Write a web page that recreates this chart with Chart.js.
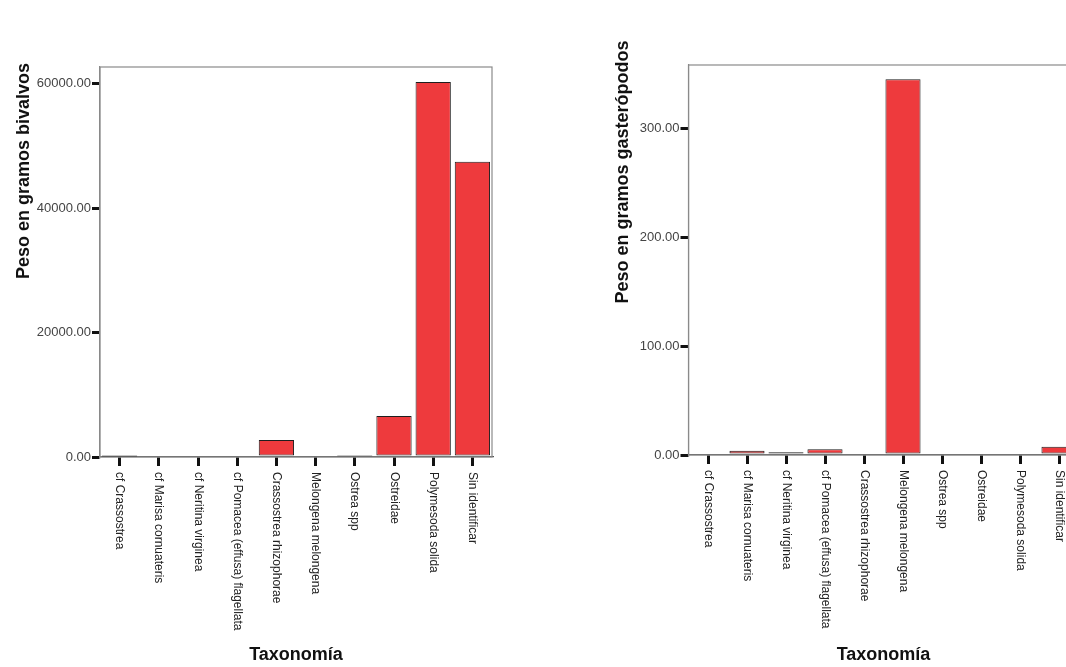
<!DOCTYPE html>
<html>
<head>
<meta charset="utf-8">
<script src="https://cdn.jsdelivr.net/npm/chart.js@4.4.0/dist/chart.umd.min.js"></script>
<style>
html, body { margin: 0; padding: 0; background: #fff; overflow: hidden; width: 1066px; height: 667px; }
#left { position: absolute; left: 0; top: 0; width: 540px; height: 667px; }
#right { position: absolute; left: 560px; top: 0; width: 560px; height: 667px; }
</style>
</head>
<body>
<div id="left"><canvas id="chartBivalvos"></canvas></div>
<div id="right"><canvas id="chartGasteropodos"></canvas></div>
<script>
// categories (same on both charts)
const taxa = [
    'cf Crassostrea',
    'cf Marisa cornuateris',
    'cf Neritina virginea',
    'cf Pomacea (effusa) flagellata',
    'Crassostrea rhizophorae',
    'Melongena melongena',
    'Ostrea spp',
    'Ostreidae',
    'Polymesoda solida',
    'Sin identificar'
];

// weights
const bivalvos = [100, 0, 0, 0, 2730, 0, 140, 6600, 60300, 47450];
const gasteropodos = [0, 3.9, 2.5, 5.2, 0, 345, 0, 0, 0, 7.6];

// y axis ticks and top of each axis
const bivalvosTicks = [0, 20000, 40000, 60000];
const gasteropodosTicks = [0, 100, 200, 300];
const bivalvosMax = 62700;
const gasteropodosMax = 358;

const xTitle = 'Taxonomía';

Chart.defaults.font.family = '"Liberation Sans", Arial, sans-serif';

/* draws the frame, the rotated category names and the two axis titles */
const decorations = {
    id: 'decorations',
    beforeDatasetsDraw(chart) {
        const ctx = chart.ctx;
        const area = chart.chartArea;
        ctx.save();
        ctx.strokeStyle = '#8a8a8a';
        ctx.lineWidth = 1.2;
        ctx.strokeRect(area.left, area.top, area.right - area.left, area.bottom - area.top);
        ctx.restore();
    },
    afterDraw(chart, args, opts) {
        const ctx = chart.ctx;
        const area = chart.chartArea;
        const xScale = chart.scales.x;
        ctx.save();
        // category labels, reading top to bottom
        ctx.fillStyle = '#222';
        ctx.font = '12px "Liberation Sans", Arial, sans-serif';
        ctx.textAlign = 'left';
        ctx.textBaseline = 'middle';
        chart.data.labels.forEach((lab, i) => {
            const x = xScale.getPixelForValue(i);
            ctx.save();
            ctx.translate(x, area.bottom + 15);
            ctx.rotate(Math.PI / 2);
            ctx.fillText(lab, 0, 0);
            ctx.restore();
        });
        // axis titles
        ctx.fillStyle = '#111';
        ctx.font = 'bold 18px "Liberation Sans", Arial, sans-serif';
        ctx.textAlign = 'center';
        ctx.fillText(xTitle, (area.left + area.right) / 2, chart.height - 12);
        ctx.save();
        ctx.translate(opts.yTitleX, opts.yTitleY);
        ctx.rotate(-Math.PI / 2);
        ctx.fillText(opts.yTitle, 0, 0);
        ctx.restore();
        ctx.restore();
    }
};

function makeChart(id, values, ticks, yMax, yTitle, box) {
    const canvas = document.getElementById(id);
    return new Chart(canvas.getContext('2d'), {
        type: 'bar',
        data: {
            labels: taxa,
            datasets: [{
                data: values,
                backgroundColor: '#ee3a3d',
                borderColor: '#1e1e1e',
                borderWidth: 1,
                borderSkipped: false,
                barPercentage: 0.9,
                categoryPercentage: 1.0
            }]
        },
        options: {
            responsive: true,
            maintainAspectRatio: false,
            animation: false,
            layout: { padding: { top: box.top, right: box.width - box.right, left: 0, bottom: 0 } },
            plugins: {
                legend: { display: false },
                tooltip: { enabled: false },
                decorations: { yTitle: yTitle, yTitleX: box.titleX, yTitleY: box.titleY }
            },
            scales: {
                x: {
                    afterFit(scale) { scale.height = 667 - box.bottom; },
                    grid: { display: true, drawOnChartArea: false, offset: false, tickLength: 9, tickColor: '#111', lineWidth: 3 },
                    border: { display: true, color: '#555', width: 1.2 },
                    ticks: { display: false }
                },
                y: {
                    min: 0,
                    max: yMax,
                    afterFit(scale) { scale.width = box.left; },
                    afterBuildTicks(scale) { scale.ticks = ticks.map(v => ({ value: v })); },
                    grid: { display: true, drawOnChartArea: false, tickLength: 8, tickColor: '#111', lineWidth: 3 },
                    border: { display: true, color: '#8a8a8a', width: 1.2 },
                    ticks: {
                        padding: 1,
                        color: '#444',
                        font: { size: 13 },
                        callback: v => Number(v).toFixed(2)
                    }
                }
            }
        },
        plugins: [decorations]
    });
}

makeChart('chartBivalvos', bivalvos, bivalvosTicks, bivalvosMax, 'Peso en gramos bivalvos',
    { width: 540, left: 100, right: 492, top: 67, bottom: 457, titleX: 24, titleY: 171 });

makeChart('chartGasteropodos', gasteropodos, gasteropodosTicks, gasteropodosMax, 'Peso en gramos gasterópodos',
    { width: 560, left: 128.5, right: 518.5, top: 65, bottom: 455, titleX: 63, titleY: 172 });
</script>
</body>
</html>
